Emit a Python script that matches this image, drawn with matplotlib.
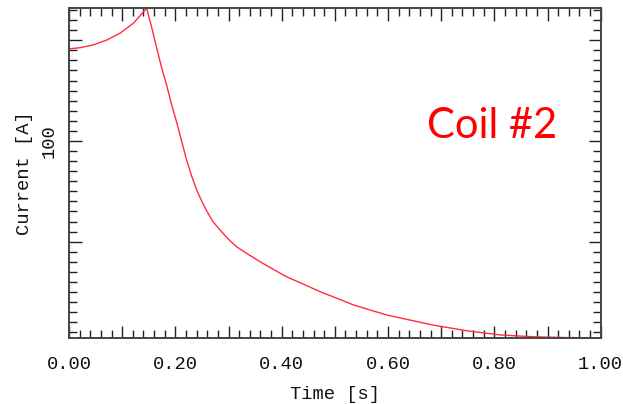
import numpy as np
import matplotlib
matplotlib.use("Agg")
import matplotlib.pyplot as plt
from matplotlib.ticker import FixedLocator, MultipleLocator

# coil current trace (time in s, current in A)
time_s = [0.000, 0.021, 0.046, 0.071, 0.096, 0.121, 0.146,
          0.156, 0.165, 0.174, 0.184, 0.193, 0.203, 0.212, 0.221,
          0.231, 0.240, 0.250, 0.259, 0.271, 0.284, 0.300, 0.315,
          0.334, 0.359, 0.384, 0.409, 0.441, 0.472, 0.504, 0.535,
          0.566, 0.598, 0.629, 0.685, 0.748, 0.811, 0.873, 0.936, 1.000]
current_a = [145.7, 146.3, 147.7, 150.1, 153.5, 158.4, 165.9,
             155.8, 146.0, 136.6, 127.3, 118.0, 108.8, 99.7, 90.6,
             82.3, 75.7, 69.9, 65.2, 59.9, 55.8, 51.2, 47.5,
             44.2, 40.1, 36.3, 32.6, 28.9, 25.2, 21.9, 18.6,
             16.1, 13.6, 11.8, 8.6, 5.8, 3.7, 2.8, 2.4, 2.3]

x_ticks = [0.0, 0.1, 0.2, 0.3, 0.4, 0.5, 0.6, 0.7, 0.8, 0.9, 1.0]
x_tick_labels = ['0.00', '', '0.20', '', '0.40', '', '0.60', '', '0.80', '', '1.00']
y_ticks = [50, 100, 150]
y_tick_labels = ['', '100', '']

mono = 'Liberation Mono'
txt = dict(family=mono, fontsize=13.5, color='#111111')

fig = plt.figure(figsize=(6.23, 4.04), dpi=100)
ax = fig.add_axes([0.1108, 0.1634, 0.8534, 0.8168])

ax.plot(time_s, current_a, color='#ff2d3c', lw=1.0)

ax.set_xlim(0, 1.0)
ax.set_ylim(2.2, 166.0)

ax.xaxis.set_major_locator(FixedLocator(x_ticks))
ax.set_xticklabels(x_tick_labels, **txt)
ax.xaxis.set_minor_locator(MultipleLocator(0.02))
ax.yaxis.set_major_locator(FixedLocator(y_ticks))
ax.set_yticklabels(y_tick_labels, rotation=90, va='center', **txt)
ax.yaxis.set_minor_locator(MultipleLocator(5))

ax.tick_params(which='both', direction='in', top=True, right=True,
               color='#222222', width=1.0)
ax.tick_params(which='major', length=9)
ax.tick_params(which='minor', length=5.5)
ax.tick_params(axis='x', which='major', pad=13)
ax.tick_params(axis='y', which='major', pad=8)

for sp in ax.spines.values():
    sp.set_color('#444444')
    sp.set_linewidth(1.4)

ax.set_xlabel('Time [s]', labelpad=9, **txt)
ax.set_ylabel('Current [A]', labelpad=6, **txt)

fig.text(0.7905, 0.688, 'Coil #2', color='red', fontsize=30,
         family='Lato', ha='center', va='center')

fig.savefig('out.png', dpi=100)
